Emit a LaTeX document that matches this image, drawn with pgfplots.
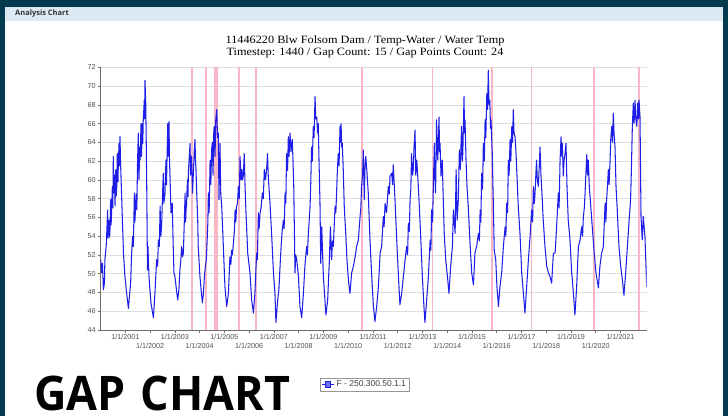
\documentclass[border=0pt]{standalone}
\usepackage{fontspec}
\setmainfont{Liberation Sans}
\newfontfamily\serifT{Liberation Serif}
\newfontfamily\osans{Open Sans}
\usepackage{graphicx}
\usepackage{pgfplots}
\pgfplotsset{compat=1.18}
\definecolor{framec}{RGB}{4,58,78}
\definecolor{hdr}{RGB}{221,234,244}
\definecolor{lblue}{RGB}{30,30,230}
\definecolor{gapc}{RGB}{247,182,196}
\definecolor{gridc}{RGB}{222,222,222}
\definecolor{axc}{RGB}{110,110,110}
\definecolor{tickc}{RGB}{80,80,80}
\begin{document}
\begin{tikzpicture}
\useasboundingbox (0,0) rectangle (728bp,416bp);
\fill[framec] (0,0) rectangle (728bp,416bp);
\fill[white] (5bp,0) rectangle (723bp,395bp);
\fill[hdr] (5bp,395bp) rectangle (723bp,409bp);
\node[anchor=west, inner sep=0] at (15bp,402bp) {\osans\bfseries\fontsize{7.5}{8}\selectfont\color{black!80}Analysis Chart};
\node[inner sep=0, xscale=1.1] at (365bp,375.5bp) {\serifT\fontsize{11.2}{12}\selectfont 11446220 Blw Folsom Dam / Temp-Water / Water Temp};
\node[inner sep=0, xscale=1.1] at (365bp,363.5bp) {\serifT\fontsize{11.2}{12}\selectfont Timestep: 1440 / Gap Count: 15 / Gap Points Count: 24};
\node[anchor=south west, inner sep=0] at (34bp,5bp) {\resizebox{256bp}{34.5bp}{\osans\bfseries GAP\hskip0.34em CHART}};
\begin{axis}[
  at={(100.7bp,86bp)}, anchor=south west,
  width=546bp, height=262.7bp, scale only axis,
  xmin=2000, xmax=2022.06, ymin=44, ymax=72,
  axis lines*=left,
  axis line style={axc, line width=0.7bp},
  ytick={44,46,...,72},
  ymajorgrids, major grid style={gridc, line width=0.5bp},
  tick align=outside, major tick length=3bp,
  tick style={axc, line width=0.6bp},
  xtick={2001,2003,...,2021},
  xticklabels={1/1/2001,1/1/2003,1/1/2005,1/1/2007,1/1/2009,1/1/2011,1/1/2013,1/1/2015,1/1/2017,1/1/2019,1/1/2021},
  extra x ticks={2002,2004,...,2020},
  extra x tick labels={1/1/2002,1/1/2004,1/1/2006,1/1/2008,1/1/2010,1/1/2012,1/1/2014,1/1/2016,1/1/2018,1/1/2020},
  extra x tick style={tick label style={yshift=-9bp}},
  ticklabel style={font=\fontsize{7.2}{8}\selectfont, text=tickc},
  xticklabel style={inner sep=1.5bp},
  yticklabel style={inner sep=2bp},
  /pgf/number format/assume math mode=true,
  legend style={at={(0.4835,-0.2075)}, anchor=center, draw={rgb,255:red,150;green,150;blue,150}, line width=0.5bp, inner sep=1bp, font=\fontsize{8.5}{9}\selectfont\color{black!75}},
  legend image code/.code={\draw[#1, line width=1.2bp] (0bp,0bp) -- (12bp,0bp); \filldraw[fill={rgb,255:red,110;green,110;blue,255}, draw=lblue] (3.5bp,-3bp) rectangle (8.5bp,3bp);},
]
\addplot[gapc, line width=1.7bp, ycomb, forget plot] coordinates {
(2003.68,72) (2004.25,72) (2004.62,72) (2004.69,72) (2005.60,72) (2006.27,72)
(2010.55,72) (2013.40,72) (2015.80,72) (2017.41,72) (2019.92,72) (2021.75,72)};
\addplot[lblue, line width=1.05bp, line join=round] table {
2000.000 51.5
2000.040 50.1
2000.070 51.1
2000.110 48.3
2000.150 49.0
2000.170 51.5
2000.220 52.9
2000.240 54.0
2000.280 56.8
2000.295 53.8
2000.310 54.3
2000.340 55.7
2000.360 53.9
2000.380 55.0
2000.400 57.9
2000.420 55.2
2000.440 56.5
2000.470 59.3
2000.490 57.0
2000.510 62.5
2000.525 59.0
2000.540 58.6
2000.560 60.5
2000.580 57.2
2000.610 61.1
2000.630 58.3
2000.650 59.3
2000.670 62.8
2000.690 62.1
2000.700 59.8
2000.710 61.4
2000.740 63.9
2000.760 61.5
2000.780 64.6
2000.800 62.0
2000.820 60.4
2000.850 57.9
2000.920 52.2
2000.980 49.7
2001.050 47.9
2001.120 46.3
2001.170 47.9
2001.210 49.0
2001.250 52.2
2001.290 54.0
2001.320 52.9
2001.360 58.6
2001.380 55.5
2001.400 56.5
2001.430 58.5
2001.460 56.8
2001.490 62.1
2001.520 65.0
2001.535 61.0
2001.550 60.0
2001.570 63.5
2001.590 62.1
2001.630 66.0
2001.645 62.5
2001.660 63.5
2001.680 66.0
2001.700 63.9
2001.720 66.5
2001.740 67.4
2001.760 68.5
2001.780 66.5
2001.790 70.6
2001.820 68.2
2001.840 64.0
2001.860 59.3
2001.890 50.4
2001.910 52.9
2001.950 49.7
2002.030 46.9
2002.130 45.3
2002.200 48.3
2002.260 51.5
2002.300 50.8
2002.330 53.6
2002.370 52.9
2002.400 57.2
2002.430 54.0
2002.460 55.0
2002.500 58.6
2002.530 60.7
2002.550 57.5
2002.570 57.9
2002.600 58.6
2002.620 61.0
2002.640 62.1
2002.660 59.5
2002.670 61.1
2002.710 66.0
2002.720 62.5
2002.730 63.5
2002.760 66.2
2002.780 62.0
2002.800 60.4
2002.840 56.5
2002.890 57.5
2002.930 52.9
2002.960 50.1
2003.000 49.7
2003.060 48.3
2003.110 47.2
2003.160 48.3
2003.200 50.4
2003.240 51.5
2003.270 52.9
2003.310 51.8
2003.340 52.2
2003.380 55.7
2003.410 58.6
2003.430 55.5
2003.450 56.8
2003.470 57.5
2003.490 59.0
2003.510 60.0
2003.530 58.2
2003.540 60.7
2003.580 62.5
2003.610 63.9
2003.630 60.5
2003.650 61.8
2003.670 62.5
2003.710 58.6
2003.750 61.1
2003.780 63.0
2003.810 64.3
2003.830 62.0
2003.850 61.1
2003.880 58.6
2003.920 55.7
2003.940 52.9
2004.010 49.7
2004.070 47.9
2004.110 46.9
2004.150 47.9
2004.190 49.7
2004.230 50.8
2004.270 51.5
2004.300 53.5
2004.330 55.5
2004.350 58.6
2004.380 56.5
2004.420 62.1
2004.450 59.5
2004.480 63.2
2004.510 64.0
2004.540 60.5
2004.570 65.3
2004.590 65.7
2004.620 62.5
2004.650 66.5
2004.690 67.5
2004.720 64.5
2004.750 65.0
2004.780 57.9
2004.800 61.5
2004.820 63.9
2004.850 58.5
2004.890 57.2
2004.955 52.9
2005.020 48.6
2005.090 46.5
2005.160 47.9
2005.220 51.8
2005.260 51.0
2005.290 52.5
2005.320 52.0
2005.360 53.2
2005.400 54.5
2005.430 56.8
2005.460 55.5
2005.490 57.2
2005.530 57.5
2005.560 59.3
2005.600 58.0
2005.630 62.5
2005.670 60.0
2005.700 61.1
2005.730 60.0
2005.760 60.4
2005.800 62.8
2005.830 59.5
2005.860 57.2
2005.940 52.2
2006.030 50.1
2006.100 47.2
2006.170 45.8
2006.230 47.9
2006.300 52.2
2006.330 51.5
2006.370 56.5
2006.400 54.8
2006.440 56.5
2006.480 57.0
2006.530 58.6
2006.570 58.0
2006.610 61.1
2006.660 60.0
2006.710 61.4
2006.740 62.8
2006.770 60.4
2006.840 57.5
2006.910 54.0
2006.980 50.1
2007.040 47.9
2007.080 44.8
2007.150 47.2
2007.200 48.3
2007.250 51.0
2007.290 52.9
2007.330 54.5
2007.380 55.7
2007.410 54.8
2007.450 58.6
2007.480 57.5
2007.510 62.8
2007.550 61.0
2007.580 64.6
2007.610 62.5
2007.650 65.0
2007.690 63.0
2007.740 64.3
2007.770 62.0
2007.800 59.3
2007.850 50.1
2007.880 52.0
2007.920 51.5
2007.990 49.7
2008.050 46.5
2008.120 45.3
2008.190 47.9
2008.250 50.8
2008.320 52.9
2008.350 52.0
2008.390 54.3
2008.420 55.5
2008.460 57.2
2008.490 60.0
2008.520 63.5
2008.550 62.0
2008.590 65.7
2008.620 64.5
2008.660 68.9
2008.690 66.5
2008.730 66.7
2008.760 65.0
2008.790 66.0
2008.820 62.1
2008.860 57.5
2008.890 51.1
2008.930 55.0
2008.996 49.7
2009.060 47.2
2009.100 45.6
2009.170 47.2
2009.240 51.5
2009.280 55.0
2009.330 51.5
2009.360 53.5
2009.400 52.9
2009.440 55.5
2009.470 57.2
2009.500 56.5
2009.530 58.6
2009.570 61.5
2009.600 62.8
2009.630 61.5
2009.670 65.7
2009.690 64.0
2009.710 66.0
2009.740 63.5
2009.760 63.9
2009.800 61.1
2009.840 57.2
2009.900 54.3
2009.950 51.5
2010.010 49.3
2010.070 47.9
2010.140 50.1
2010.210 50.8
2010.280 51.8
2010.340 52.9
2010.410 53.6
2010.480 56.1
2010.510 57.0
2010.540 59.3
2010.580 60.5
2010.610 63.2
2010.650 57.9
2010.680 61.5
2010.710 62.5
2010.750 61.1
2010.810 58.6
2010.880 53.6
2010.950 49.7
2011.020 46.5
2011.080 44.9
2011.150 46.5
2011.220 48.6
2011.290 52.2
2011.350 52.9
2011.420 56.1
2011.450 55.0
2011.490 57.5
2011.550 56.5
2011.620 59.3
2011.660 58.5
2011.690 60.4
2011.760 60.7
2011.790 59.5
2011.820 61.6
2011.890 57.9
2011.960 53.6
2012.030 49.7
2012.090 46.7
2012.160 47.9
2012.230 49.7
2012.300 51.5
2012.360 52.9
2012.400 52.0
2012.430 55.4
2012.470 54.5
2012.500 57.9
2012.530 59.0
2012.560 62.8
2012.600 60.5
2012.630 61.1
2012.660 63.5
2012.700 65.3
2012.730 60.5
2012.770 62.1
2012.810 60.4
2012.860 57.9
2012.940 53.3
2012.996 49.7
2013.060 46.5
2013.100 44.8
2013.170 47.2
2013.240 49.7
2013.310 53.6
2013.340 52.5
2013.370 56.8
2013.410 55.5
2013.440 59.3
2013.480 63.9
2013.500 60.5
2013.530 58.6
2013.570 66.4
2013.600 63.0
2013.620 62.1
2013.650 65.0
2013.670 66.7
2013.690 63.0
2013.710 63.9
2013.750 60.4
2013.800 62.1
2013.840 57.9
2013.880 54.3
2013.940 51.5
2014.010 49.7
2014.070 47.9
2014.140 50.8
2014.210 52.9
2014.250 56.8
2014.320 54.3
2014.360 61.1
2014.400 55.7
2014.450 57.9
2014.490 63.2
2014.530 61.1
2014.560 64.0
2014.580 65.7
2014.610 62.0
2014.630 62.8
2014.660 66.5
2014.680 68.9
2014.700 65.0
2014.720 66.4
2014.760 62.1
2014.800 59.3
2014.850 57.2
2014.920 53.3
2014.990 50.1
2015.060 48.8
2015.120 52.2
2015.190 52.9
2015.260 54.3
2015.300 53.5
2015.330 56.8
2015.360 55.5
2015.390 60.7
2015.430 59.0
2015.460 63.9
2015.500 62.0
2015.530 66.4
2015.560 64.5
2015.600 69.2
2015.630 67.5
2015.660 71.7
2015.690 68.0
2015.720 68.5
2015.750 65.5
2015.770 66.4
2015.820 62.8
2015.860 57.9
2015.900 52.5
2015.960 51.5
2016.010 48.6
2016.070 46.5
2016.130 48.6
2016.200 50.1
2016.270 52.9
2016.340 55.0
2016.370 54.0
2016.400 57.5
2016.440 56.5
2016.470 62.1
2016.500 60.5
2016.540 64.3
2016.570 62.0
2016.610 65.7
2016.640 64.0
2016.670 67.5
2016.700 65.0
2016.740 64.6
2016.780 62.8
2016.820 60.4
2016.870 57.2
2016.940 54.3
2017.010 50.1
2017.080 47.9
2017.140 45.8
2017.210 48.6
2017.280 51.5
2017.350 54.0
2017.410 56.8
2017.450 55.5
2017.480 59.3
2017.520 57.5
2017.550 58.6
2017.580 60.5
2017.610 62.1
2017.640 60.0
2017.680 59.3
2017.720 61.5
2017.750 63.5
2017.790 60.4
2017.840 57.9
2017.880 55.7
2017.950 52.9
2018.020 50.8
2018.090 50.1
2018.150 49.7
2018.220 49.0
2018.290 52.2
2018.360 52.2
2018.420 55.0
2018.490 58.6
2018.520 57.0
2018.560 62.1
2018.600 64.6
2018.630 62.5
2018.650 63.9
2018.690 60.4
2018.720 62.0
2018.760 62.8
2018.800 63.9
2018.840 59.3
2018.890 55.7
2018.960 53.6
2019.030 50.1
2019.100 47.9
2019.160 45.6
2019.230 48.6
2019.300 52.9
2019.370 53.6
2019.430 55.0
2019.470 54.0
2019.500 56.1
2019.540 57.0
2019.570 58.6
2019.600 60.5
2019.640 62.7
2019.670 60.5
2019.700 62.1
2019.740 59.3
2019.800 57.2
2019.860 55.0
2019.940 52.2
2020.010 50.1
2020.110 48.5
2020.170 50.8
2020.240 52.2
2020.310 52.9
2020.340 55.0
2020.380 57.5
2020.410 55.5
2020.440 57.9
2020.480 59.5
2020.510 61.1
2020.540 59.5
2020.580 62.1
2020.610 64.5
2020.650 65.7
2020.680 64.0
2020.710 67.1
2020.740 65.0
2020.780 63.5
2020.820 59.3
2020.870 56.8
2020.940 52.9
2021.010 50.8
2021.080 49.3
2021.140 47.7
2021.210 50.1
2021.280 52.9
2021.350 55.7
2021.410 57.9
2021.440 61.0
2021.480 65.7
2021.520 68.2
2021.550 66.0
2021.590 68.5
2021.620 66.5
2021.660 65.7
2021.700 68.2
2021.730 66.5
2021.750 68.5
2021.790 66.7
2021.830 56.1
2021.880 53.6
2021.920 56.1
2021.990 53.9
2022.060 48.6
};
\addlegendentry{F - 250.300.50.1.1}
\end{axis}
\end{tikzpicture}
\end{document}
